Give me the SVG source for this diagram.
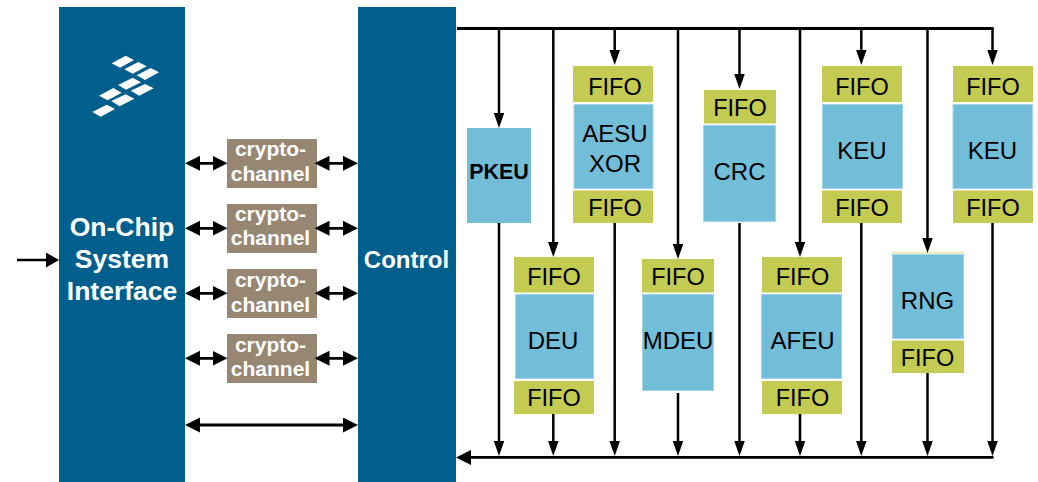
<svg xmlns="http://www.w3.org/2000/svg" width="1038" height="482" viewBox="0 0 1038 482">
<style>
.big{fill:#005f8c}
.fifo{fill:#c3cb52}
.unit{fill:#72bdd8;stroke:#a4d4e6;stroke-width:1}
.pk{fill:#72bdd8}
.cc{fill:#978672}
text{font-family:"Liberation Sans",Arial,sans-serif;text-anchor:middle}
.t{font-size:24px;fill:#000}
.f{font-size:23.5px;fill:#000}
.w{font-size:26.5px;font-weight:bold;fill:#fff}
.c{font-size:21px;font-weight:bold;fill:#fff}
.l{stroke:#000;stroke-width:2.5;fill:none}
.m{stroke:#000;stroke-width:2.8;fill:none}
.b{stroke:#000;stroke-width:2.8;fill:none}
.logo{fill:#fff}
</style>
<defs>
<marker id="a" markerUnits="userSpaceOnUse" markerWidth="16" markerHeight="11" refX="10" refY="5.25" orient="auto-start-reverse"><path d="M0 0L15 5.25L0 10.5Z"/></marker>
<marker id="d" markerUnits="userSpaceOnUse" markerWidth="16" markerHeight="16" refX="10" refY="7.5" orient="auto-start-reverse"><path d="M0 0L15 7.5L0 15Z"/></marker>
<marker id="i" markerUnits="userSpaceOnUse" markerWidth="14" markerHeight="16" refX="8" refY="7.5" orient="auto"><path d="M0 0L13 7.5L0 15Z"/></marker>
</defs>
<g id="interface">
<rect class="big" x="59" y="7" width="126" height="475"/>
<g class="logo">
<path d="M111.7 63.3L125.7 55.7L134 60L120 67.7Z"/>
<path d="M124.3 69.3L138.3 62L146.7 66.3L132.7 73.7Z"/>
<path d="M136.7 75.3L150.7 68L159 72.3L145 80Z"/>
<path d="M118 85L132.7 77.7L141 82.3L126 89.7Z"/>
<path d="M130.7 90.7L145 84L153.7 88.3L139.3 95.7Z"/>
<path d="M99 95.7L113.3 88L121.7 92.7L107.7 100.3Z"/>
<path d="M111.3 101L125.7 94.3L134.3 98.7L119.7 106.3Z"/>
<path d="M92.3 112L106.7 104.7L115 109L100.7 116.7Z"/>
</g>
<text class="w" x="122" y="236">On-Chip</text>
<text class="w" x="122" y="268">System</text>
<text class="w" x="122" y="300">Interface</text>
</g>
<g id="control">
<rect class="big" x="358" y="7" width="98" height="475"/>
<text class="w" x="406.5" y="268" style="font-size:24px">Control</text>
</g>
<g id="crypto-channel-1"><rect class="cc" x="227" y="139" width="90" height="49"/><text class="c" x="270.5" y="156">crypto-</text><text class="c" x="270.5" y="181">channel</text></g>
<g id="crypto-channel-2"><rect class="cc" x="227" y="204" width="90" height="49"/><text class="c" x="270.5" y="221">crypto-</text><text class="c" x="270.5" y="245">channel</text></g>
<g id="crypto-channel-3"><rect class="cc" x="227" y="269" width="90" height="49"/><text class="c" x="270.5" y="287">crypto-</text><text class="c" x="270.5" y="312">channel</text></g>
<g id="crypto-channel-4"><rect class="cc" x="227" y="334" width="90" height="49"/><text class="c" x="270.5" y="352">crypto-</text><text class="c" x="270.5" y="376">channel</text></g>
<g id="pkeu"><rect class="pk" x="467" y="128" width="64" height="95"/><text class="t" x="499" y="178.5" style="font-size:21.5px;font-weight:bold">PKEU</text></g>
<g id="deu"><rect class="fifo" x="514" y="257" width="80" height="35.5"/><rect class="unit" x="515.5" y="294.5" width="78" height="84"/><rect class="fifo" x="514" y="381" width="80" height="33"/><text class="f" x="554" y="285">FIFO</text><text class="t" x="553" y="349">DEU</text><text class="f" x="554" y="406">FIFO</text></g>
<g id="aesu"><rect class="fifo" x="573" y="66" width="80" height="36"/><rect class="unit" x="574" y="104.5" width="79" height="84"/><rect class="fifo" x="573" y="190.5" width="80" height="32.5"/><text class="f" x="615" y="95">FIFO</text><text class="t" x="615" y="142">AESU</text><text class="t" x="615" y="172">XOR</text><text class="f" x="615" y="216">FIFO</text></g>
<g id="mdeu"><rect class="fifo" x="642" y="259" width="72" height="33.5"/><rect class="unit" x="642.5" y="294.5" width="71" height="96"/><text class="f" x="678" y="285">FIFO</text><text class="t" x="678" y="349">MDEU</text></g>
<g id="crc"><rect class="fifo" x="704" y="90" width="72" height="33.5"/><rect class="unit" x="703.5" y="125.5" width="72" height="96"/><text class="f" x="740" y="116">FIFO</text><text class="t" x="739.5" y="180">CRC</text></g>
<g id="afeu"><rect class="fifo" x="762" y="257" width="80" height="35.5"/><rect class="unit" x="761.5" y="294.5" width="80" height="84"/><rect class="fifo" x="762" y="381" width="80" height="33"/><text class="f" x="802.5" y="285">FIFO</text><text class="t" x="802.5" y="349">AFEU</text><text class="f" x="802.5" y="406">FIFO</text></g>
<g id="keu-1"><rect class="fifo" x="822" y="66" width="80" height="36"/><rect class="unit" x="822.5" y="104.5" width="80" height="84"/><rect class="fifo" x="822" y="190.5" width="80" height="32.5"/><text class="f" x="862" y="95">FIFO</text><text class="t" x="862" y="159">KEU</text><text class="f" x="862" y="216">FIFO</text></g>
<g id="rng"><rect x="892" y="252" width="72" height="1.5" fill="#e4e6a6"/><rect class="unit" x="892.5" y="254.5" width="71" height="84"/><rect class="fifo" x="892" y="340.5" width="72" height="32.5"/><text class="t" x="927.5" y="309">RNG</text><text class="f" x="927.5" y="366">FIFO</text></g>
<g id="keu-2"><rect class="fifo" x="953" y="66" width="80" height="36"/><rect class="unit" x="953" y="104.5" width="79.5" height="84"/><rect class="fifo" x="953" y="190.5" width="80" height="32.5"/><text class="f" x="993" y="95">FIFO</text><text class="t" x="992.5" y="159">KEU</text><text class="f" x="993" y="216">FIFO</text></g>
<g id="connectors">
<path class="l" d="M17 260H54" marker-end="url(#i)"/>
<path class="m" d="M190 163.3H222.5" marker-start="url(#d)" marker-end="url(#d)"/>
<path class="m" d="M319.5 163.3H353" marker-start="url(#d)" marker-end="url(#d)"/>
<path class="m" d="M190 228.3H222.5" marker-start="url(#d)" marker-end="url(#d)"/>
<path class="m" d="M319.5 228.3H353" marker-start="url(#d)" marker-end="url(#d)"/>
<path class="m" d="M190 293.3H222.5" marker-start="url(#d)" marker-end="url(#d)"/>
<path class="m" d="M319.5 293.3H353" marker-start="url(#d)" marker-end="url(#d)"/>
<path class="m" d="M190 358.3H222.5" marker-start="url(#d)" marker-end="url(#d)"/>
<path class="m" d="M319.5 358.3H353" marker-start="url(#d)" marker-end="url(#d)"/>
<path class="m" d="M190 425H353" marker-start="url(#d)" marker-end="url(#d)"/>
<path class="b" d="M457 28.5H993.5"/>
<path class="l" d="M499 28V123" marker-end="url(#a)"/>
<path class="l" d="M553.3 28V252" marker-end="url(#a)"/>
<path class="l" d="M614.7 28V60" marker-end="url(#a)"/>
<path class="l" d="M678 28V254" marker-end="url(#a)"/>
<path class="l" d="M739.5 28V84" marker-end="url(#a)"/>
<path class="l" d="M800 28V252" marker-end="url(#a)"/>
<path class="l" d="M861.3 28V60" marker-end="url(#a)"/>
<path class="l" d="M927.5 28V248" marker-end="url(#a)"/>
<path class="l" d="M992.5 28V60" marker-end="url(#a)"/>
<path class="b" d="M993.5 457.4H461" marker-end="url(#d)"/>
<path class="l" d="M499 223V451" marker-end="url(#a)"/>
<path class="l" d="M553.3 414V451" marker-end="url(#a)"/>
<path class="l" d="M614.7 223V451" marker-end="url(#a)"/>
<path class="l" d="M678 393V451" marker-end="url(#a)"/>
<path class="l" d="M739.5 223V451" marker-end="url(#a)"/>
<path class="l" d="M800 414V451" marker-end="url(#a)"/>
<path class="l" d="M861.3 223V451" marker-end="url(#a)"/>
<path class="l" d="M927.5 373V451" marker-end="url(#a)"/>
<path class="l" d="M992.5 223V451" marker-end="url(#a)"/>
</g>
</svg>
